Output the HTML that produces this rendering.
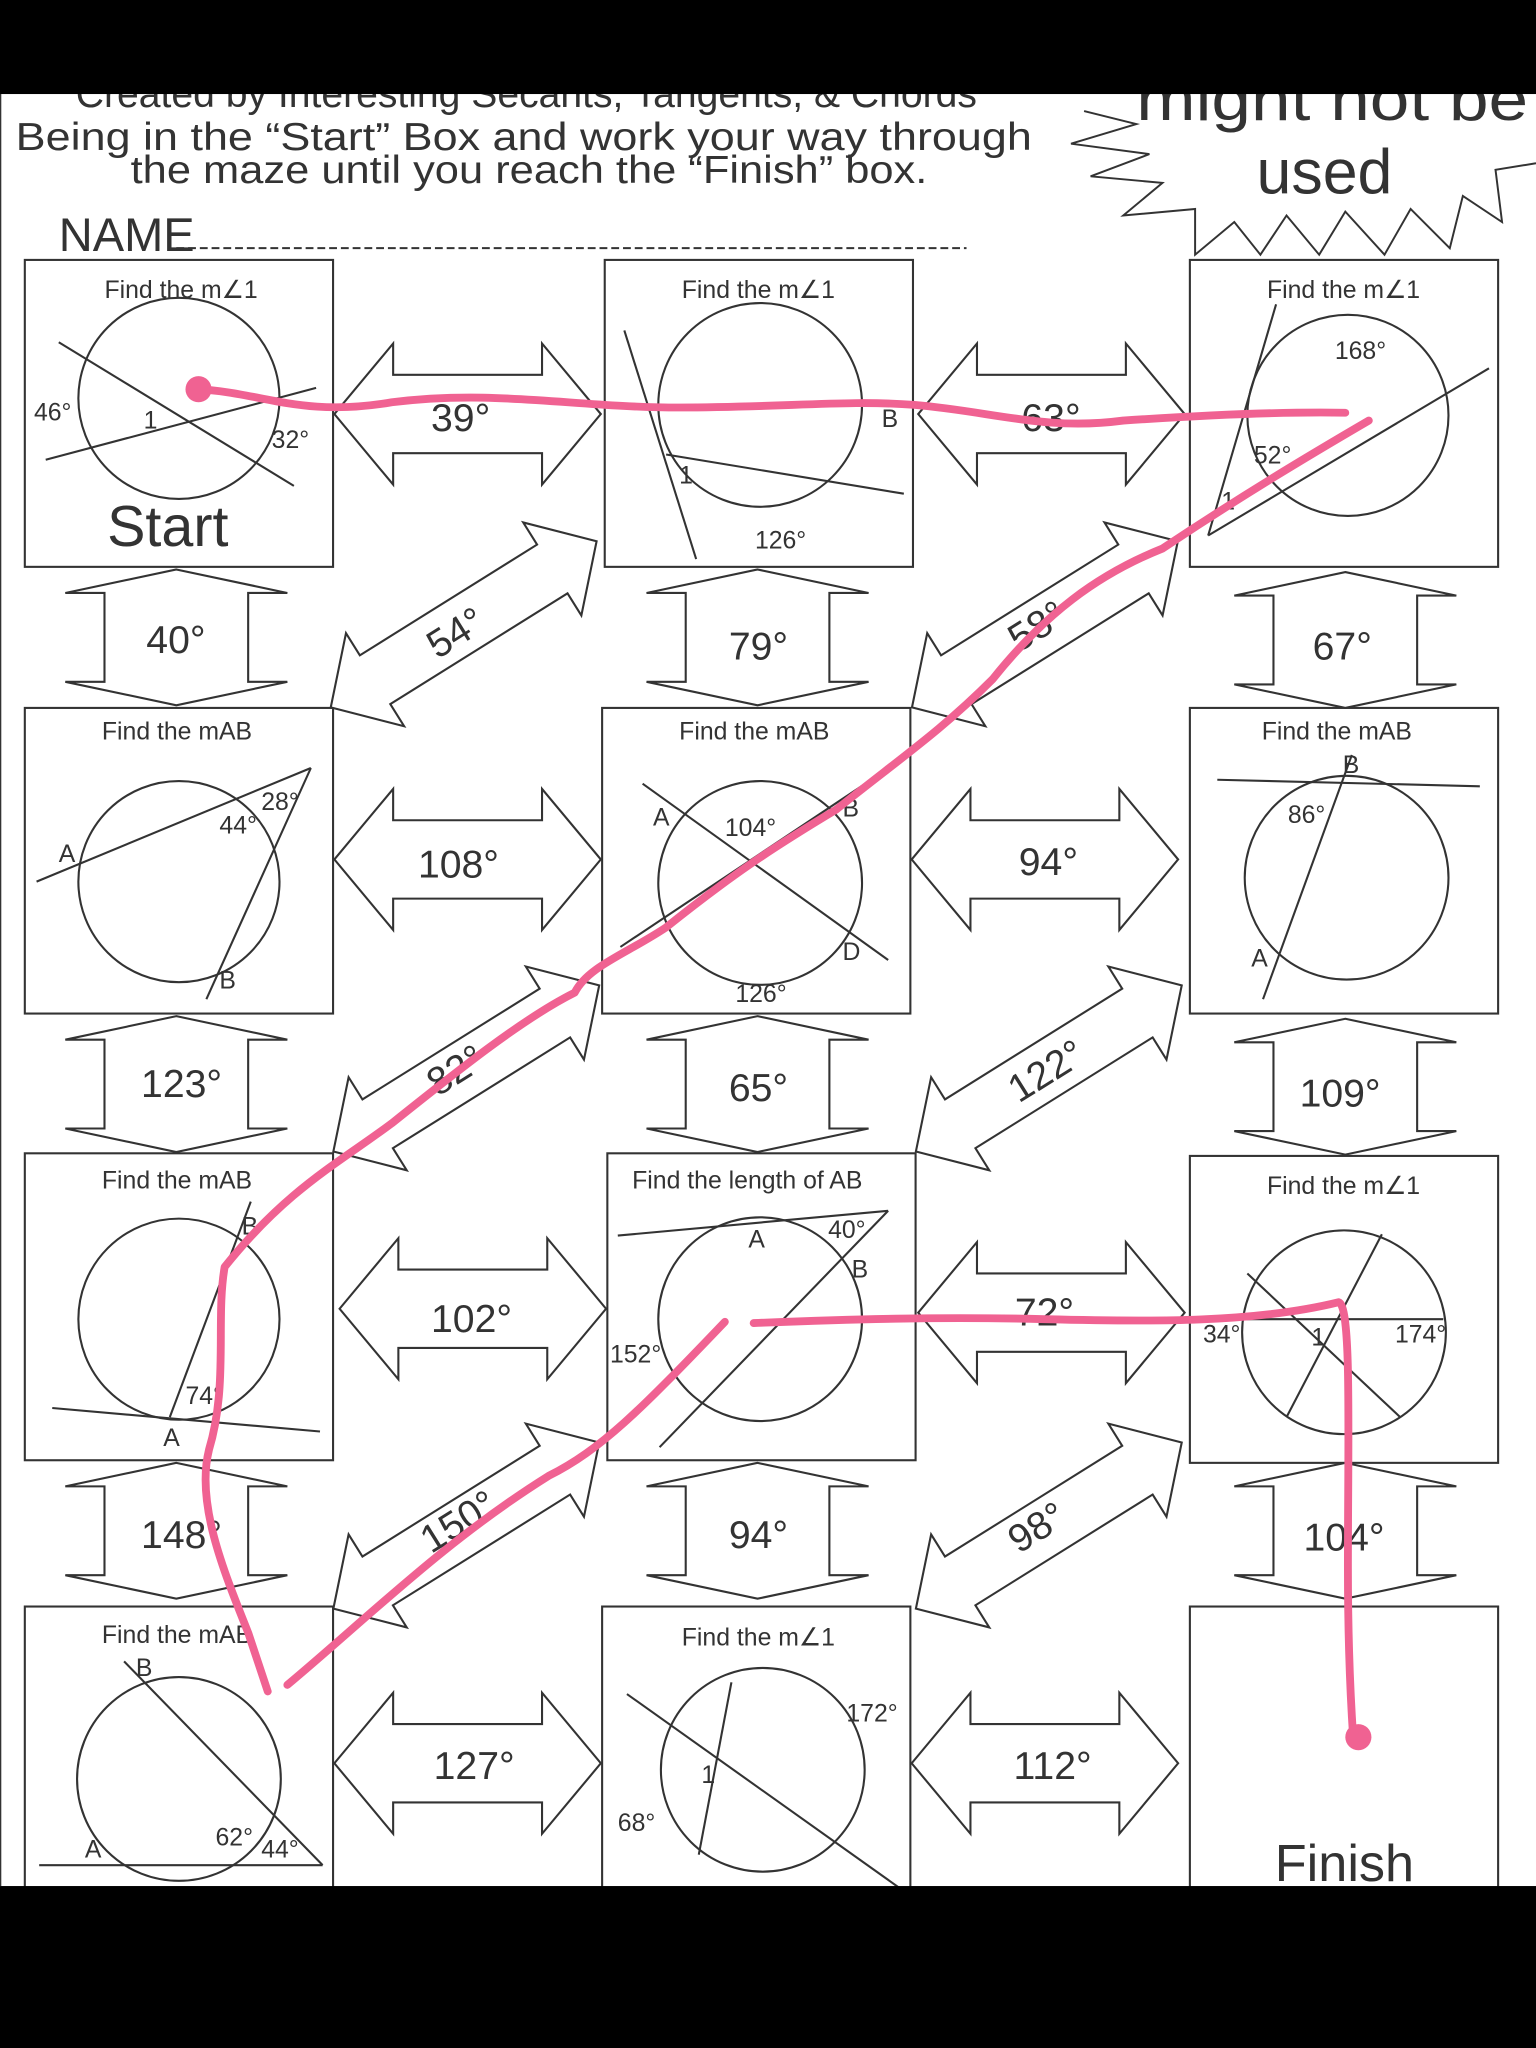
<!DOCTYPE html>
<html><head><meta charset="utf-8"><style>
html,body{margin:0;padding:0;background:#000;}
svg{display:block;}
text{font-family:"Liberation Sans",sans-serif;fill:#333;}
</style></head><body>
<svg width="1536" height="2048" viewBox="0 0 1176 1568" xmlns="http://www.w3.org/2000/svg">
<defs>
<g id="ha"><polygon points="-102,0 -57,-54 -57,-30 57,-30 57,-54 102,0 57,54 57,30 -57,30 -57,54" fill="#fff" stroke="#333" stroke-width="1.6"/></g>
<g id="va"><polygon points="0,-52 85,-34 55,-34 55,34 85,34 0,52 -85,34 -55,34 -55,-34 -85,-34" fill="#fff" stroke="#333" stroke-width="1.6"/></g>
<g id="da"><polygon points="-120,0 -80,-42 -80,-22 80,-22 80,-42 120,0 80,42 80,22 -80,22 -80,42" fill="#fff" stroke="#333" stroke-width="1.6"/></g>
</defs>
<rect x="0" y="0" width="1176" height="1568" fill="#fff"/>
<!-- header -->
<text x="58" y="82" font-size="30" fill="#444" textLength="690" lengthAdjust="spacingAndGlyphs">Created by Interesting Secants, Tangents, &amp; Chords</text>
<text x="12" y="115" font-size="30" textLength="778" lengthAdjust="spacingAndGlyphs">Being in the “Start” Box and work your way through</text>
<text x="100" y="140" font-size="30" textLength="610" lengthAdjust="spacingAndGlyphs">the maze until you reach the “Finish” box.</text>
<text x="45" y="192" font-size="36">NAME</text>
<line x1="135" y1="190" x2="740" y2="190" stroke="#333" stroke-width="1.5" stroke-dasharray="6,3"/>
<polyline points="830,85 870,95 820,110 880,118 835,135 890,140 860,165 915,160 915,195 945,170 965,195 985,165 1010,195 1030,162 1060,195 1080,160 1110,190 1120,150 1150,170 1145,130 1176,125" fill="none" stroke="#333" stroke-width="1.5"/>
<text x="870" y="92" font-size="46" textLength="300" lengthAdjust="spacingAndGlyphs">might not be</text>
<text x="962" y="148" font-size="48">used</text>
<!-- boxes -->
<g fill="#fff" stroke="#333" stroke-width="1.6">
<rect x="19" y="199" width="236" height="235"/><rect x="463" y="199" width="236" height="235"/><rect x="911" y="199" width="236" height="235"/>
<rect x="19" y="542" width="236" height="234"/><rect x="461" y="542" width="236" height="234"/><rect x="911" y="542" width="236" height="234"/>
<rect x="19" y="883" width="236" height="235"/><rect x="465" y="883" width="236" height="235"/><rect x="911" y="885" width="236" height="235"/>
<rect x="19" y="1230" width="236" height="230"/><rect x="461" y="1230" width="236" height="230"/><rect x="911" y="1230" width="236" height="230"/>
</g>
<g font-size="19" fill="#555">
<text x="80" y="228">Find the m∠1</text><text x="522" y="228">Find the m∠1</text><text x="970" y="228">Find the m∠1</text>
<text x="78" y="566">Find the mAB</text><text x="520" y="566">Find the mAB</text><text x="966" y="566">Find the mAB</text>
<text x="78" y="910">Find the mAB</text><text x="484" y="910">Find the length of AB</text><text x="970" y="914">Find the m∠1</text>
<text x="78" y="1258">Find the mAB</text><text x="522" y="1260">Find the m∠1</text>
</g>
<g fill="none" stroke="#333" stroke-width="1.6">
<circle cx="137" cy="305" r="77"/><circle cx="582" cy="310" r="78"/><circle cx="1032" cy="318" r="77"/>
<circle cx="137" cy="675" r="77"/><circle cx="582" cy="676" r="78"/><circle cx="1031" cy="672" r="78"/>
<circle cx="137" cy="1010" r="77"/><circle cx="582" cy="1010" r="78"/><circle cx="1029" cy="1020" r="78"/>
<circle cx="137" cy="1362" r="78"/><circle cx="584" cy="1355" r="78"/>
<line x1="45" y1="262" x2="225" y2="372"/><line x1="35" y1="352" x2="242" y2="297"/>
<line x1="478" y1="253" x2="533" y2="428"/><line x1="510" y1="348" x2="692" y2="378"/>
<line x1="925" y1="410" x2="977" y2="233"/><line x1="925" y1="410" x2="1140" y2="282"/>
<line x1="28" y1="675" x2="238" y2="588"/><line x1="238" y1="588" x2="158" y2="765"/>
<line x1="492" y1="600" x2="680" y2="735"/><line x1="475" y1="725" x2="670" y2="595"/>
<line x1="932" y1="597" x2="1133" y2="602"/><line x1="1035" y1="578" x2="967" y2="765"/>
<line x1="40" y1="1078" x2="245" y2="1096"/><line x1="130" y1="1085" x2="192" y2="920"/>
<line x1="473" y1="946" x2="680" y2="927"/><line x1="680" y1="927" x2="505" y2="1108"/>
<line x1="955" y1="975" x2="1072" y2="1085"/><line x1="985" y1="1085" x2="1058" y2="945"/><line x1="951" y1="1010" x2="1105" y2="1010"/>
<line x1="95" y1="1272" x2="247" y2="1428"/><line x1="30" y1="1428" x2="247" y2="1428"/>
<line x1="480" y1="1297" x2="688" y2="1445"/><line x1="560" y1="1288" x2="535" y2="1420"/>
</g>
<g font-size="19">
<text x="26" y="322">46°</text><text x="110" y="328">1</text><text x="208" y="343">32°</text>
<text x="82" y="418" font-size="44" font-family="Liberation Serif">Start</text>
<text x="675" y="327">B</text><text x="520" y="370">1</text><text x="578" y="420">126°</text>
<text x="1022" y="275">168°</text><text x="960" y="355">52°</text><text x="935" y="390">1</text>
<text x="45" y="660">A</text><text x="168" y="638">44°</text><text x="200" y="620">28°</text><text x="168" y="757">B</text>
<text x="500" y="632">A</text><text x="555" y="640">104°</text><text x="645" y="625">B</text><text x="645" y="735">D</text><text x="563" y="767">126°</text>
<text x="1028" y="592">B</text><text x="986" y="630">86°</text><text x="958" y="740">A</text>
<text x="185" y="945">B</text><text x="142" y="1075">74°</text><text x="125" y="1107">A</text>
<text x="573" y="955">A</text><text x="634" y="948">40°</text><text x="652" y="978">B</text><text x="467" y="1043">152°</text>
<text x="921" y="1028">34°</text><text x="1004" y="1030">1</text><text x="1068" y="1028">174°</text>
<text x="104" y="1283">B</text><text x="165" y="1413">62°</text><text x="200" y="1422">44°</text><text x="65" y="1422">A</text>
<text x="648" y="1318">172°</text><text x="537" y="1365">1</text><text x="473" y="1402">68°</text>
<text x="976" y="1440" font-size="40">Finish</text>
</g>
<use href="#ha" x="358" y="317"/><use href="#ha" x="805" y="317"/>
<use href="#ha" x="358" y="658"/><use href="#ha" x="800" y="658"/>
<use href="#ha" x="362" y="1002"/><use href="#ha" x="805" y="1005"/>
<use href="#ha" x="358" y="1350"/><use href="#ha" x="800" y="1350"/>
<use href="#va" x="135" y="488"/><use href="#va" x="580" y="488"/><use href="#va" x="1030" y="490"/>
<use href="#va" x="135" y="830"/><use href="#va" x="580" y="830"/><use href="#va" x="1030" y="832"/>
<use href="#va" x="135" y="1172"/><use href="#va" x="580" y="1172"/><use href="#va" x="1030" y="1172"/>
<use href="#da" transform="translate(355,478) rotate(-32)"/>
<use href="#da" transform="translate(800,478) rotate(-32)"/>
<use href="#da" transform="translate(357,818) rotate(-32)"/>
<use href="#da" transform="translate(803,818) rotate(-32)"/>
<use href="#da" transform="translate(357,1168) rotate(-32)"/>
<use href="#da" transform="translate(803,1168) rotate(-32)"/>
<g font-size="30">
<text x="330" y="330">39°</text><text x="782" y="330">63°</text>
<text x="320" y="672">108°</text><text x="780" y="670">94°</text>
<text x="330" y="1020">102°</text><text x="777" y="1015">72°</text>
<text x="332" y="1362">127°</text><text x="776" y="1362">112°</text>
<text x="112" y="500">40°</text><text x="558" y="505">79°</text><text x="1005" y="505">67°</text>
<text x="108" y="840">123°</text><text x="558" y="843">65°</text><text x="995" y="847">109°</text>
<text x="108" y="1185">148°</text><text x="558" y="1185">94°</text><text x="998" y="1187">104°</text>
<text transform="translate(335,505) rotate(-32)">54°</text>
<text transform="translate(780,500) rotate(-32)">58°</text>
<text transform="translate(335,840) rotate(-32)">82°</text>
<text transform="translate(780,845) rotate(-32)">122°</text>
<text transform="translate(330,1190) rotate(-32)">150°</text>
<text transform="translate(780,1190) rotate(-32)">98°</text>
</g>
<g fill="none" stroke="#f06292" stroke-width="6" stroke-linecap="round" stroke-linejoin="round">
<path d="M150,298 C200,300 230,320 300,308 C380,298 440,312 520,312 C600,312 650,306 700,310 C760,315 800,330 860,322 C920,318 980,315 1030,316"/>
<path d="M1048,322 C1000,350 950,380 890,420 C840,440 800,470 760,520 C720,560 690,580 640,620 C590,650 560,670 510,710 C480,730 450,740 440,760 C400,780 350,820 300,860 C260,890 220,910 172,970 C165,1010 175,1060 160,1110 C150,1150 170,1200 190,1250 L205,1295"/>
<path d="M220,1290 C280,1240 340,1180 420,1130 C460,1110 490,1080 555,1012"/>
<path d="M577,1013 C650,1010 720,1008 800,1010 C880,1012 960,1013 1025,997 C1035,1000 1032,1100 1032,1200 C1032,1260 1034,1300 1036,1330"/>
</g>
<circle cx="152" cy="298" r="10" fill="#f06292"/><circle cx="1040" cy="1330" r="10" fill="#f06292"/>
<line x1="0" y1="72" x2="0" y2="1444" stroke="#333" stroke-width="2"/>
<rect x="0" y="0" width="1176" height="72" fill="#000"/>
<rect x="0" y="1444" width="1176" height="124" fill="#000"/>
</svg>
</body></html>
